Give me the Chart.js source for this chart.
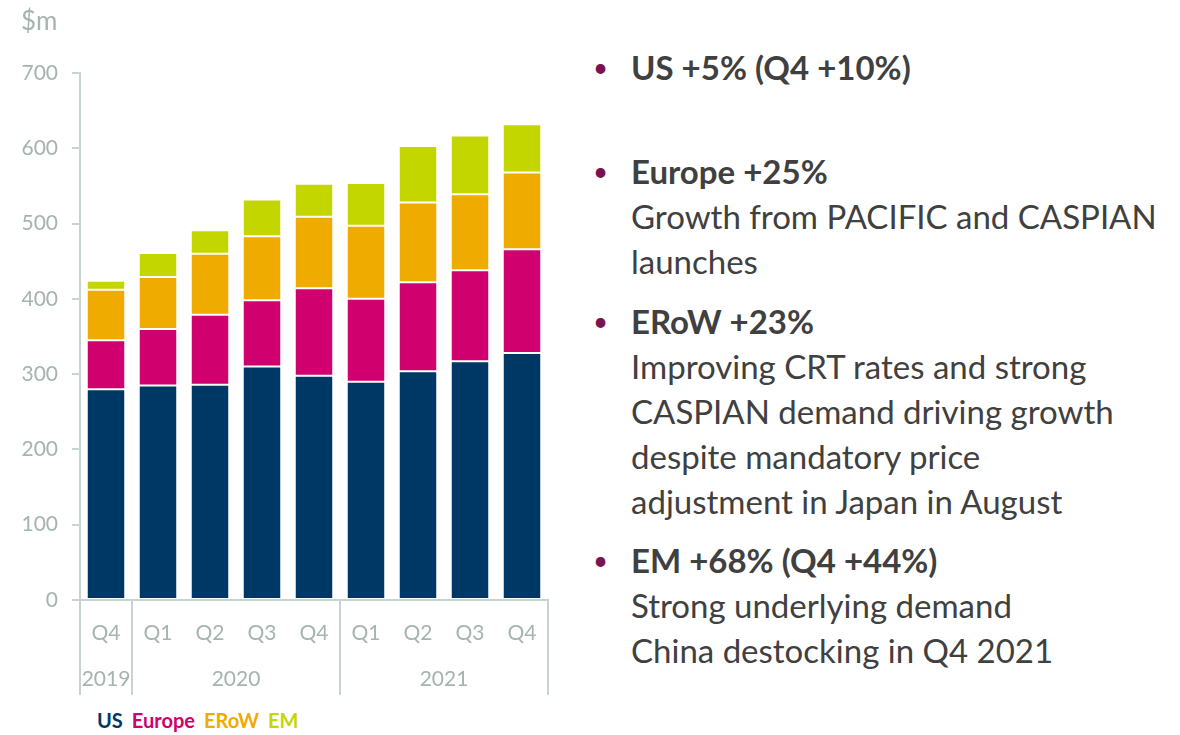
<!DOCTYPE html>
<html>
<head>
<meta charset="utf-8">
<script src="https://cdn.jsdelivr.net/npm/chart.js@4"></script>
<style>
  body { margin: 0; width: 1180px; height: 735px; background: #fff; font-family: Lato, sans-serif; position: relative; overflow: hidden; }
  #wrap { position: absolute; left: 0; top: 0; width: 570px; height: 700px; }
  #unit { position: absolute; left: 21px; top: 4px; font-size: 26px; color: #a5b4ae; }
  #legend { position: absolute; left: 97px; top: 708px; font-size: 20px; font-weight: bold; white-space: nowrap; }
  #legend span { margin-right: 9px; }
  .item { position: absolute; left: 593px; color: #404040; font-size: 33px; line-height: 45px; }
  .item b { display: block; }
  .item .txt { padding-left: 38px; }
  .item .dot { position: absolute; left: 0; top: 0; color: #7a1450; font-size: 26px; }
</style>
</head>
<body>
<div id="wrap"><canvas id="myChart"></canvas></div>
<div id="unit">$m</div>
<div id="legend"></div>

<div class="item" style="top:45px"><span class="dot">•</span><div class="txt"><b>US +5% (Q4 +10%)</b></div></div>
<div class="item" style="top:149px"><span class="dot">•</span><div class="txt"><b>Europe +25%</b>Growth from PACIFIC and CASPIAN<br>launches</div></div>
<div class="item" style="top:299px"><span class="dot">•</span><div class="txt"><b>ERoW +23%</b>Improving CRT rates and strong<br>CASPIAN demand driving growth<br>despite mandatory price<br>adjustment in Japan in August</div></div>
<div class="item" style="top:538px"><span class="dot">•</span><div class="txt"><b>EM +68% (Q4 +44%)</b>Strong underlying demand<br>China destocking in Q4 2021</div></div>

<script>
var quarters = ['Q4', 'Q1', 'Q2', 'Q3', 'Q4', 'Q1', 'Q2', 'Q3', 'Q4'];
var years = ['2019', '2020', '2021'];
var yearSpans = [[0, 0], [1, 4], [5, 8]];

var usData     = [280, 285, 286, 310, 298, 290, 304, 317, 328];
var europeData = [65, 75, 93, 88, 116, 110, 118, 121, 138];
var erowData   = [67, 69, 81, 85, 95, 97, 106, 101, 102];
var emData     = [12, 32, 31, 49, 44, 57, 75, 78, 64];

var seriesNames = ['US', 'Europe', 'ERoW', 'EM'];
var seriesColors = ['#003865', '#d0006f', '#f0ab00', '#c4d600'];

var axisGrey = '#c8d3cf';
var textGrey = '#a5b4ae';

// boundaries between year groups (grid line index)
var groupEdges = [0, 1, 5];
var yearCenters = yearSpans.map(function (s) { return (s[0] + s[1]) / 2; });

document.getElementById('legend').innerHTML = seriesNames.map(function (n, i) {
    return '<span style="color:' + seriesColors[i] + '">' + n + '</span>';
}).join('');

var ctx = document.getElementById('myChart').getContext('2d');
var allData = [usData, europeData, erowData, emData];

var myChart = new Chart(ctx, {
    type: 'bar',
    data: {
        labels: quarters,
        datasets: allData.map(function (d, i) {
            return {
                label: seriesNames[i],
                data: d,
                backgroundColor: seriesColors[i],
                borderColor: '#ffffff',
                borderWidth: 1,
                borderSkipped: false,
                barPercentage: 0.74,
                categoryPercentage: 1
            };
        })
    },
    options: {
        responsive: true,
        maintainAspectRatio: false,
        animation: false,
        layout: { padding: { top: 73, right: 22, left: 0, bottom: 0 } },
        plugins: {
            legend: { display: false },
            tooltip: { enabled: false }
        },
        scales: {
            x: {
                stacked: true,
                position: 'bottom',
                grid: {
                    offset: true,
                    drawOnChartArea: false,
                    tickLength: 95,
                    lineWidth: 2,
                    color: function (c) {
                        if (c.type !== 'tick') return axisGrey;
                        return groupEdges.indexOf(c.index) >= 0 ? axisGrey : 'rgba(0,0,0,0)';
                    }
                },
                border: { color: axisGrey, width: 2 },
                ticks: {
                    color: textGrey,
                    font: { family: 'Lato', size: 21 },
                    padding: -74,
                    maxRotation: 0,
                    autoSkip: false
                },
                afterFit: function (s) { s.height = 45; }
            },
            x2: {
                type: 'linear',
                position: 'bottom',
                offset: false,
                min: -0.5,
                max: 8.5,
                bounds: 'data',
                grid: { display: false },
                border: { display: false },
                afterBuildTicks: function (s) {
                    s.ticks = yearCenters.map(function (v) { return { value: v }; });
                },
                ticks: {
                    color: textGrey,
                    font: { family: 'Lato', size: 21 },
                    padding: 14,
                    autoSkip: false,
                    maxRotation: 0,
                    callback: function (v, i) { return years[i]; }
                },
                afterFit: function (s) { s.height = 55; }
            },
            y: {
                stacked: true,
                min: 0,
                max: 700,
                grid: {
                    drawOnChartArea: false,
                    tickLength: 8,
                    lineWidth: 2,
                    color: axisGrey
                },
                border: { color: axisGrey, width: 2 },
                ticks: {
                    stepSize: 100,
                    color: textGrey,
                    font: { family: 'Lato', size: 21 },
                    padding: 14
                },
                afterFit: function (s) { s.width = 80; }
            }
        }
    }
});
</script>
</body>
</html>
